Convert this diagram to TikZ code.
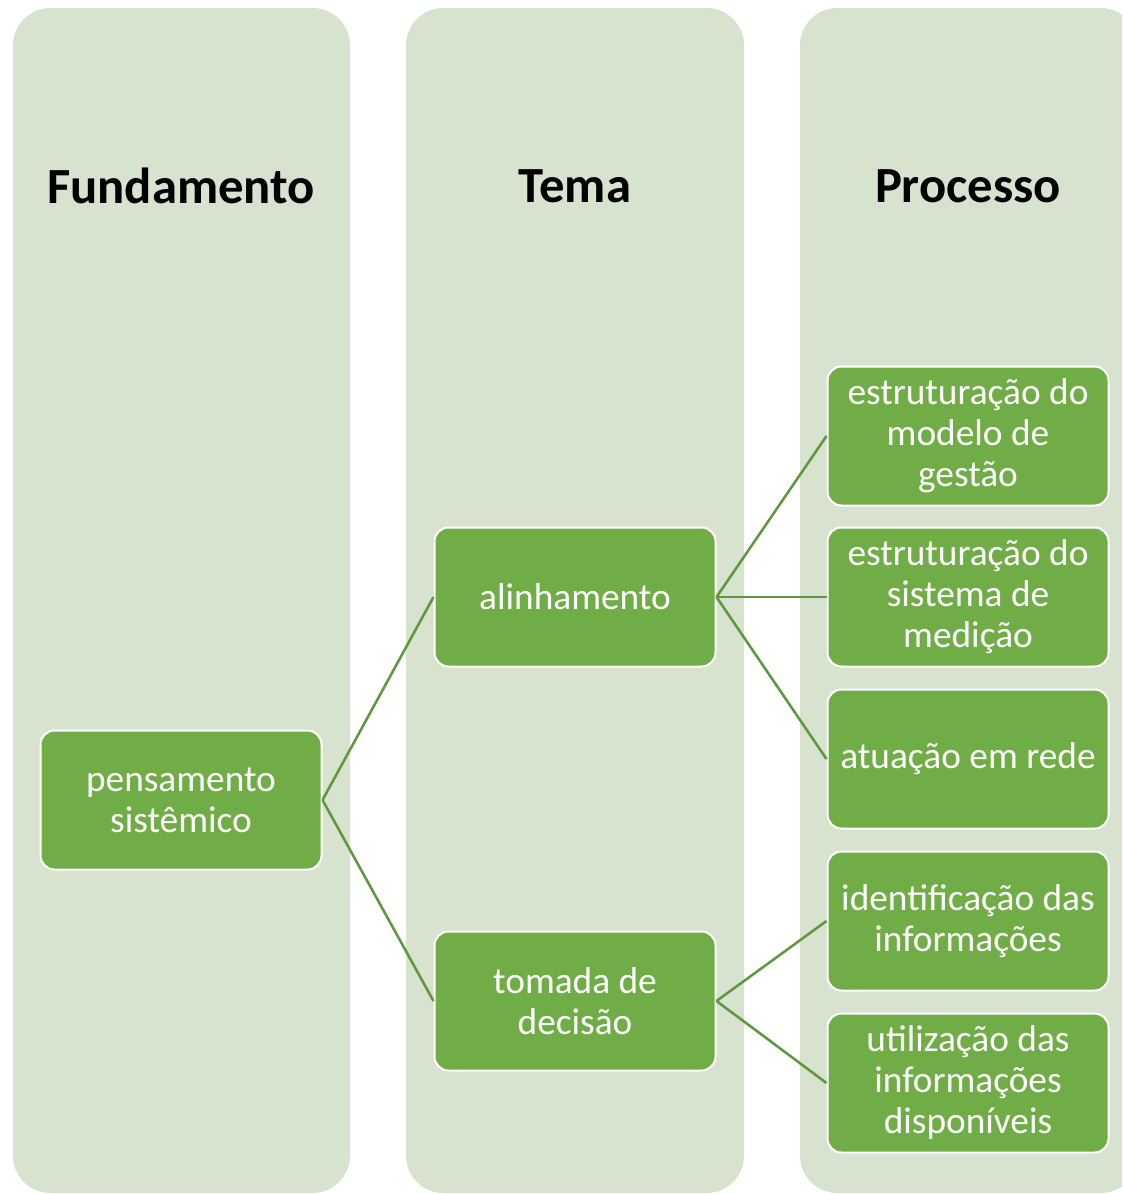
\documentclass[tikz,border=0pt]{standalone}
\usepackage{fontspec}
\setmainfont{Carlito}
\definecolor{colbg}{HTML}{D7E3CF}
\definecolor{boxfill}{HTML}{70AD47}
\definecolor{linkc}{HTML}{5F983C}
\begin{document}
\begin{tikzpicture}[x=0.75pt,y=-0.75pt,
  column/.style={fill=colbg,draw=none,rounded corners=28pt},
  heading/.style={font=\fontsize{38pt}{44pt}\selectfont\bfseries,text=black,anchor=center},
  box/.style={draw=white,line width=1.5pt,fill=boxfill,rounded corners=10.5pt,
    minimum width=210.75pt,minimum height=104.25pt,text=white,align=center,
    inner sep=0pt,font=\fontsize{28pt}{30.75pt}\selectfont},
  link/.style={draw=linkc,line width=1.9pt}]
\useasboundingbox (0,0) rectangle (1122,1194);
\clip (0,0) rectangle (1122,1194);
\path[column] (13,8) rectangle (350,1193);
\path[column] (406,8) rectangle (744,1193);
\path[column] (800,8) rectangle (1138,1193);
\node[heading] (h1) at (181,186) {Fundamento};
\node[heading] (h2) at (575,186) {Tema};
\node[heading] (h3) at (968,186) {Processo};
\node[box] (ps) at (181,800) {pensamento\\sistêmico};
\node[box] (al) at (575,597) {alinhamento};
\node[box] (td) at (575,1001) {tomada de\\decisão};
\node[box] (p1) at (968,436) {estruturação do\\modelo de\\gestão};
\node[box] (p2) at (968,597) {estruturação do\\sistema de\\medição};
\node[box] (p3) at (968,759) {atuação em rede};
\node[box] (p4) at (968,921) {identificação das\\informações};
\node[box] (p5) at (968,1083) {utilização das\\informações\\disponíveis};
\draw[link] (ps.east) -- (al.west);
\draw[link] (ps.east) -- (td.west);
\draw[link] (al.east) -- (p1.west);
\draw[link] (al.east) -- (p2.west);
\draw[link] (al.east) -- (p3.west);
\draw[link] (td.east) -- (p4.west);
\draw[link] (td.east) -- (p5.west);
\end{tikzpicture}
\end{document}
